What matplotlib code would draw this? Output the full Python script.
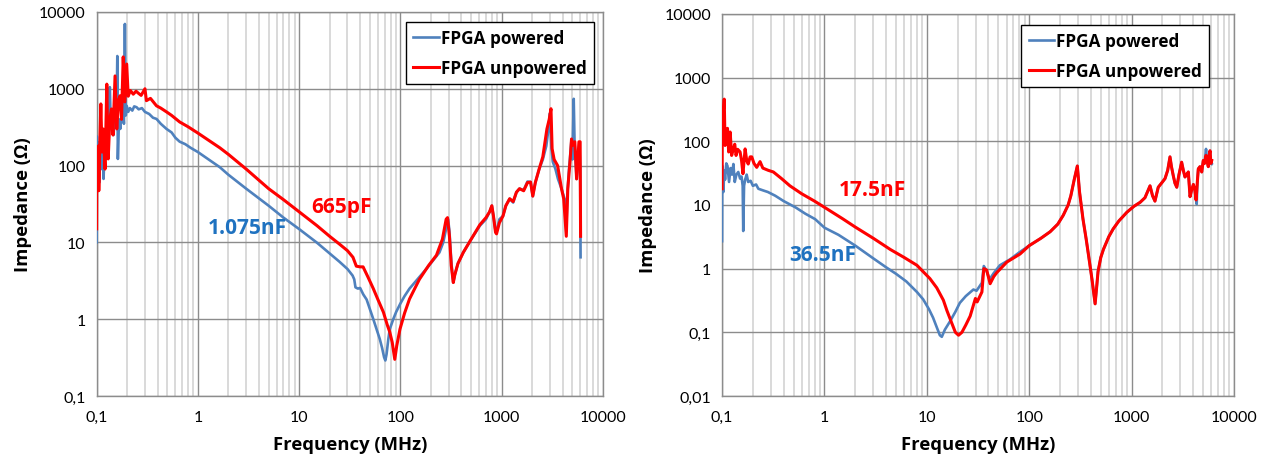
import numpy as np
import matplotlib
matplotlib.use("Agg")
from matplotlib import pyplot as plt
from matplotlib.ticker import FixedLocator, FixedFormatter, NullFormatter, LogLocator

plt.rcParams['font.family'] = ['Lato', 'DejaVu Sans']
BOLD_FONT = ['Open Sans', 'DejaVu Sans']

BLUE = '#4f81bd'
RED = '#ff0000'
LABEL_BLUE = '#1f72c0'

# ---- left chart: (MHz, Ohm) ----
left_pow_f = [0.100, 0.1005, 0.102, 0.104, 0.106, 0.108, 0.111, 0.114, 0.117, 0.121, 0.125, 0.130,
              0.135, 0.138, 0.143, 0.147, 0.152, 0.157, 0.160, 0.162, 0.166, 0.171, 0.176, 0.181,
              0.186, 0.190, 0.194, 0.198, 0.205, 0.213, 0.225, 0.235, 0.248, 0.26, 0.28, 0.30,
              0.33, 0.36, 0.39, 0.43, 0.49, 0.55, 0.60, 0.66, 0.75, 0.85, 1.0, 1.3, 1.65, 2.0,
              3.0, 5.0, 7.0, 10, 15, 20, 25, 30, 33.7, 35, 36, 38, 40, 43, 46.4, 50, 54, 58,
              62.6, 66, 69, 71, 73, 76, 78.5, 85, 91, 100, 110, 123, 150, 180, 210, 243, 265,
              283, 296, 305, 315, 325, 333, 345, 370, 418, 500, 610, 700, 760, 800, 830, 870,
              890, 950, 1030, 1100, 1200, 1300, 1400, 1500, 1650, 1800, 1930, 2030, 2150, 2350,
              2550, 2760, 2900, 3000, 3100, 3200, 3400, 3600, 3900, 4230, 4350, 4450, 4600, 4900,
              5000, 5150, 5250, 5500, 5850, 5960, 6020]
left_pow_z = [10, 240, 80, 200, 60, 150, 90, 280, 67, 250, 130, 600,
              1050, 300, 450, 250, 550, 400, 2670, 122, 400, 300, 450, 600,
              350, 6980, 450, 600, 500, 560, 520, 590, 575, 540, 560, 500,
              470, 420, 405, 350, 300, 270, 230, 205, 190, 170, 150, 118, 95, 76,
              50, 30, 21, 14.9, 9.9, 7.2, 5.6, 4.5, 3.7, 3.3, 2.6, 2.5, 2.55, 2.1, 1.8, 1.35, 1.0, 0.75,
              0.55, 0.42, 0.32, 0.29, 0.35, 0.55, 0.74, 1.0, 1.25, 1.6, 2.0, 2.5, 3.4, 4.5, 5.8, 7.4, 10,
              15, 20, 14, 7, 4, 3.0, 3.8, 5.3, 7.4, 11, 16.5, 20, 25, 30, 22, 14,
              13.7, 20, 22, 30, 37, 33, 45, 50, 48, 62, 61, 40, 60, 90,
              120, 180, 300, 480, 170, 112, 90, 67, 50, 35, 14, 40, 80, 220,
              120, 740, 200, 67, 200, 100, 6.4]

left_unp_f = [0.100, 0.1005, 0.102, 0.104, 0.105, 0.108, 0.110, 0.113, 0.116, 0.121, 0.126, 0.128,
              0.130, 0.135, 0.140, 0.145, 0.152, 0.158, 0.164, 0.170, 0.176, 0.183, 0.190, 0.198,
              0.205, 0.215, 0.23, 0.245, 0.257, 0.275, 0.30, 0.31, 0.34, 0.39, 0.43, 0.49, 0.55,
              0.66, 0.8, 1.0, 1.3, 1.65, 2.0, 3.0, 5.0, 7.0, 10, 15, 20, 25, 30, 34, 36.7, 40,
              42.8, 48, 54, 60, 68, 74, 78.5, 83, 88, 92, 99, 110, 123, 154, 190, 227, 260, 283,
              292, 305, 318, 333, 345, 370, 418, 500, 610, 700, 760, 800, 830, 870, 890, 950,
              1030, 1100, 1200, 1300, 1400, 1500, 1650, 1800, 1930, 2030, 2150, 2350, 2550, 2800,
              2950, 3070, 3150, 3300, 3570, 3900, 4100, 4350, 4500, 4750, 4900, 5000, 5100, 5280,
              5500, 5800, 5960, 6020]
left_unp_z = [15, 120, 60, 180, 47, 250, 635, 150, 300, 90, 1150, 300,
              122, 400, 546, 250, 1470, 300, 700, 810, 400, 2600, 675, 2100,
              800, 950, 850, 930, 880, 820, 1000, 700, 750, 600, 560, 500, 450,
              370, 320, 265, 210, 170, 140, 90, 50, 36, 25, 16.5, 12, 9.5, 7.8, 6.4, 4.9, 4.8,
              4.8, 3.5, 2.5, 1.8, 1.23, 0.85, 0.68, 0.5, 0.3, 0.45, 0.74, 1.2, 1.83, 3.3, 5.0, 6.8, 11, 20,
              21, 12, 5, 3.0, 3.8, 5.3, 7.4, 11, 17, 21, 25, 30, 22, 13.5, 12.9, 18,
              22, 30, 37, 34, 45, 50, 47, 60, 61, 40, 60, 91, 130, 300,
              400, 550, 166, 120, 100, 50, 37, 12, 50, 120, 222, 183, 200, 204,
              67, 204, 204, 12]

# ---- right chart: (MHz, Ohm) ----
right_pow_f = [0.100, 0.1003, 0.101, 0.103, 0.105, 0.107, 0.110, 0.113, 0.117, 0.121, 0.125, 0.129,
               0.133, 0.138, 0.144, 0.150, 0.155, 0.159, 0.161, 0.164, 0.168, 0.174, 0.180, 0.19,
               0.20, 0.215, 0.226, 0.25, 0.28, 0.33, 0.40, 0.52, 0.65, 0.81, 1.0, 1.37, 2.0, 3.0,
               4.0, 5.0, 6.3, 8.0, 9.2, 10.5, 11.5, 12.5, 13.4, 14, 15, 16.9, 19, 21, 24, 28.5,
               30.6, 34.5, 36, 38, 41, 45, 51.7, 65, 80, 100, 130, 160, 190, 215, 240, 255, 275,
               295, 310, 335, 360, 390, 410, 440, 455, 470, 500, 530, 600, 660, 750, 900, 1050,
               1210, 1350, 1513, 1600, 1690, 1820, 2000, 2120, 2250, 2370, 2450, 2550, 2650, 2760,
               2900, 3080, 3200, 3320, 3450, 3580, 3720, 3850, 4010, 4150, 4320, 4400, 4480, 4650,
               4840, 5010, 5150, 5330, 5450, 5610, 5720, 5830, 5950, 6060]
right_pow_z = [2.7, 30, 41, 16, 35, 25, 45, 41, 23, 38, 30, 44,
               23, 30, 33, 26, 28, 20, 3.9, 20, 25, 30, 23, 24,
               20, 21, 18, 17, 16, 14, 11.5, 9.2, 7.3, 6.0, 4.4, 3.4, 2.3, 1.45,
               1.05, 0.83, 0.63, 0.43, 0.33, 0.23, 0.17, 0.12, 0.09, 0.085, 0.11, 0.15, 0.21, 0.29, 0.37, 0.47,
               0.45, 0.6, 1.1, 0.95, 0.68, 0.85, 1.13, 1.4, 1.8, 2.3, 3.0, 3.8, 5.0, 6.9, 10, 14, 25,
               41, 16, 6, 2.9, 1.2, 0.68, 0.28, 0.5, 0.9, 1.5, 2.0, 3.2, 4.2, 5.6, 7.7, 9.5,
               11, 13, 20, 14, 11.5, 19, 23, 26, 35, 57, 40, 29, 22, 19,
               30, 47, 35, 27.5, 30, 33, 13.5, 17, 21, 17, 10.3, 25, 37, 40,
               33, 50, 45, 76, 50, 40, 60, 71, 45, 44]

right_unp_f = [0.100, 0.1003, 0.102, 0.103, 0.105, 0.107, 0.110, 0.113, 0.116, 0.120, 0.124, 0.129,
               0.133, 0.137, 0.142, 0.150, 0.155, 0.160, 0.165, 0.168, 0.174, 0.180, 0.188, 0.195,
               0.205, 0.218, 0.235, 0.25, 0.283, 0.317, 0.383, 0.46, 0.6, 0.8, 1.0, 1.5, 2.0, 3.0,
               4.4, 6.0, 8.0, 10.7, 12.5, 14.5, 15.7, 17.5, 19, 20.4, 22, 24, 26.5, 29.8, 31, 34.5,
               36, 38.4, 41.5, 45, 48.3, 60.5, 81.4, 100, 130, 160, 190, 215, 240, 255, 275,
               295, 310, 335, 360, 390, 410, 440, 455, 470, 500, 530, 600, 660, 750, 900, 1050,
               1210, 1350, 1513, 1600, 1690, 1820, 2000, 2120, 2250, 2370, 2450, 2550, 2650, 2760,
               2900, 3080, 3200, 3320, 3450, 3580, 3720, 3850, 4010, 4150, 4260, 4400, 4480, 4650,
               4840, 5010, 5150, 5330, 5450, 5610, 5720, 5830, 5950, 6060]
right_unp_z = [18, 120, 91, 300, 460, 86, 140, 160, 68, 140, 60, 76,
               90, 60, 75, 68, 50, 31, 55, 76, 50, 44, 57, 57,
               45, 39, 48, 38, 35, 33, 25.8, 20, 15, 11.5, 9.2, 6.1, 4.5, 3.0,
               2.0, 1.5, 1.13, 0.7, 0.5, 0.32, 0.22, 0.14, 0.1, 0.09, 0.1, 0.13, 0.18, 0.34, 0.3, 0.43,
               1.0, 0.95, 0.58, 0.75, 0.87, 1.27, 1.7, 2.3, 3.0, 3.8, 5.0, 6.9, 10, 14, 25,
               41, 16, 6, 2.9, 1.2, 0.68, 0.28, 0.5, 0.9, 1.5, 2.0, 3.2, 4.2, 5.6, 7.7, 9.5,
               11, 13, 20, 14, 11.5, 19, 23, 26, 35, 57, 40, 29, 22, 19,
               30, 47, 35, 27.5, 30, 33, 13.5, 17, 21, 17, 12, 25, 37, 40,
               33, 50, 45, 60, 50, 40, 60, 71, 45, 50]

x_ticks = [0.1, 1, 10, 100, 1000, 10000]
x_labels = ['0,1', '1', '10', '100', '1000', '10000']
left_y_ticks = [0.1, 1, 10, 100, 1000, 10000]
left_y_labels = ['0,1', '1', '10', '100', '1000', '10000']
right_y_ticks = [0.01, 0.1, 1, 10, 100, 1000, 10000]
right_y_labels = ['0,01', '0,1', '1', '10', '100', '1000', '10000']

series_names = ['FPGA powered', 'FPGA unpowered']
left_notes = [('1.075nF', 3.1, 15.4, LABEL_BLUE), ('665pF', 26.4, 28.9, RED)]
right_notes = [('17.5nF', 2.92, 17.2, RED), ('36.5nF', 0.97, 1.64, LABEL_BLUE)]


def style_axes(ax, yticks, ylabels, ylim):
    ax.set_xscale('log')
    ax.set_yscale('log')
    ax.set_xlim(0.1, 10000)
    ax.set_ylim(*ylim)
    ax.xaxis.set_major_locator(FixedLocator(x_ticks))
    ax.xaxis.set_major_formatter(FixedFormatter(x_labels))
    ax.yaxis.set_major_locator(FixedLocator(yticks))
    ax.yaxis.set_major_formatter(FixedFormatter(ylabels))
    ax.xaxis.set_minor_locator(LogLocator(base=10, subs=np.arange(2, 10), numticks=20))
    ax.xaxis.set_minor_formatter(NullFormatter())
    ax.yaxis.set_minor_locator(FixedLocator([]))
    ax.grid(which='major', axis='both', color='#8c8c8c', lw=1.0)
    ax.grid(which='minor', axis='x', color='#d9d9d9', lw=1.4)
    ax.set_axisbelow(True)
    for s in ax.spines.values():
        s.set_color('#8c8c8c')
        s.set_linewidth(1.0)
    ax.tick_params(which='both', length=0, labelsize=11.5, colors='#000000')
    ax.tick_params(axis='x', pad=10)
    ax.tick_params(axis='y', pad=8)
    ax.set_xlabel('Frequency (MHz)', fontsize=13.3, fontweight='bold', family=BOLD_FONT, labelpad=8)
    ax.set_ylabel('Impedance (Ω)', fontsize=13.3, fontweight='bold', family=BOLD_FONT, labelpad=5)


fig = plt.figure(figsize=(12.65, 4.6), dpi=100)
ax1 = fig.add_axes([0.0764, 0.137, 0.4002, 0.8348])
ax2 = fig.add_axes([0.5708, 0.137, 0.4047, 0.8304])

panels = [
    (ax1, left_pow_f, left_pow_z, left_unp_f, left_unp_z, left_y_ticks, left_y_labels,
     (0.1, 10000), left_notes, (0.982, 0.974)),
    (ax2, right_pow_f, right_pow_z, right_unp_f, right_unp_z, right_y_ticks, right_y_labels,
     (0.01, 10000), right_notes, (0.951, 0.971)),
]

for ax, pf, pz, uf, uz, yt, yl, ylim, notes, anchor in panels:
    style_axes(ax, yt, yl, ylim)
    ax.plot(pf, pz, color=BLUE, lw=1.9, label=series_names[0], zorder=3)
    ax.plot(uf, uz, color=RED, lw=2.2, label=series_names[1], zorder=4)
    for txt, fx, fy, c in notes:
        ax.text(fx, fy, txt, color=c, fontsize=15, fontweight='bold', family=BOLD_FONT,
                ha='center', va='center')
    leg = ax.legend(loc='upper right', bbox_to_anchor=anchor, borderaxespad=0,
                    fancybox=False, edgecolor='black', framealpha=1, handlelength=1.5,
                    handletextpad=0.1, labelspacing=0.7, borderpad=0.42,
                    prop={'weight': 'bold', 'size': 12.3, 'family': BOLD_FONT})
    leg.get_frame().set_linewidth(1.0)

fig.savefig('out.png', dpi=100)
